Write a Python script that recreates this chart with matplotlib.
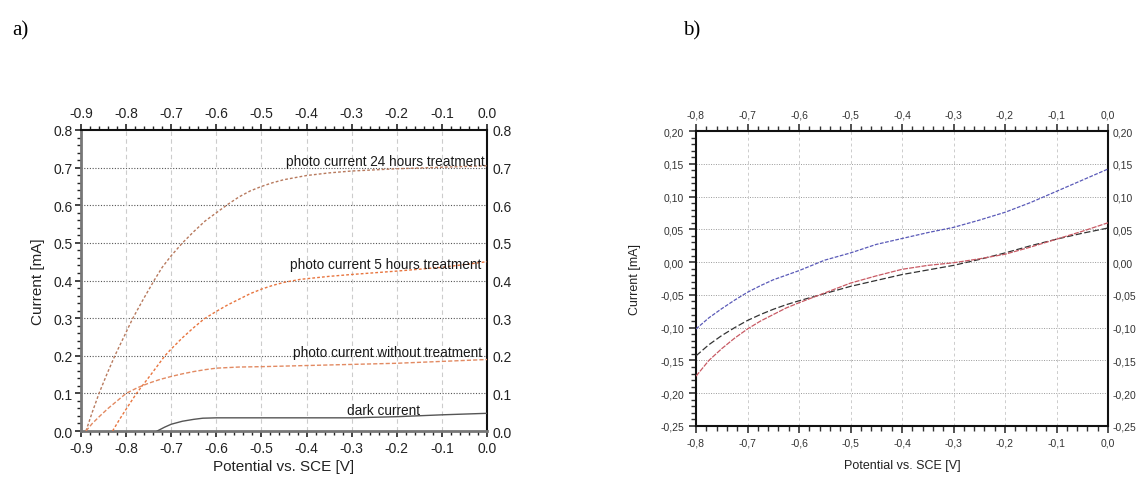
import matplotlib
matplotlib.use("Agg")
import matplotlib.pyplot as plt
from matplotlib.ticker import MultipleLocator, FuncFormatter

plt.rcParams['font.family'] = ['Liberation Sans', 'DejaVu Sans']

# ---------------- Panel a data ----------------
a_x24 = [-0.889, -0.875, -0.86, -0.843, -0.825, -0.805, -0.785, -0.762, -0.738, -0.72, -0.70, -0.675,
         -0.65, -0.625, -0.60, -0.575, -0.55, -0.525, -0.50, -0.475, -0.45, -0.40, -0.35, -0.30,
         -0.20, -0.10, 0.0]
a_y24 = [0.0, 0.05, 0.10, 0.15, 0.20, 0.25, 0.30, 0.35, 0.40, 0.435, 0.466, 0.50,
         0.53, 0.558, 0.580, 0.602, 0.622, 0.638, 0.650, 0.660, 0.668, 0.679, 0.686, 0.691,
         0.697, 0.701, 0.705]

a_x5 = [-0.830, -0.815, -0.80, -0.777, -0.745, -0.714, -0.70, -0.675, -0.65, -0.627, -0.60, -0.575,
        -0.55, -0.525, -0.50, -0.475, -0.45, -0.414, -0.35, -0.30, -0.20, -0.10, 0.0]
a_y5 = [0.0, 0.03, 0.058, 0.10, 0.15, 0.20, 0.218, 0.248, 0.275, 0.298, 0.318, 0.335,
        0.350, 0.365, 0.377, 0.387, 0.395, 0.403, 0.411, 0.416, 0.425, 0.435, 0.450]

a_x0 = [-0.889, -0.875, -0.858, -0.84, -0.82, -0.80, -0.775, -0.75, -0.725, -0.70, -0.675, -0.65,
        -0.625, -0.60, -0.55, -0.50, -0.40, -0.30, -0.20, -0.10, 0.0]
a_y0 = [0.0, 0.02, 0.04, 0.06, 0.08, 0.10, 0.115, 0.127, 0.137, 0.145, 0.152, 0.158,
        0.163, 0.167, 0.170, 0.171, 0.174, 0.177, 0.180, 0.185, 0.190]

a_xd = [-0.731, -0.715, -0.70, -0.675, -0.65, -0.63, -0.60, -0.50, -0.40, -0.30, -0.20, -0.10, 0.0]
a_yd = [0.0, 0.010, 0.018, 0.026, 0.031, 0.034, 0.035, 0.035, 0.035, 0.035, 0.038, 0.043, 0.047]

a_labels = ["photo current 24 hours treatment", "photo current 5 hours treatment",
            "photo current without treatment", "dark current"]

# ---------------- Panel b data ----------------
b_x = [-0.80, -0.775, -0.75, -0.725, -0.70, -0.675, -0.65, -0.625, -0.60, -0.55, -0.50, -0.45,
       -0.40, -0.35, -0.30, -0.25, -0.20, -0.15, -0.10, -0.05, 0.0]
b_blue = [-0.102, -0.085, -0.071, -0.058, -0.046, -0.036, -0.027, -0.020, -0.013, 0.003, 0.014, 0.027,
          0.036, 0.045, 0.053, 0.064, 0.076, 0.091, 0.108, 0.125, 0.142]
b_black = [-0.143, -0.126, -0.112, -0.100, -0.089, -0.080, -0.072, -0.065, -0.059, -0.048, -0.037, -0.028,
           -0.019, -0.012, -0.005, 0.004, 0.014, 0.025, 0.035, 0.044, 0.052]
b_red = [-0.174, -0.150, -0.132, -0.116, -0.102, -0.090, -0.080, -0.070, -0.062, -0.047, -0.032, -0.021,
         -0.011, -0.005, -0.001, 0.005, 0.012, 0.023, 0.035, 0.047, 0.060]

fig = plt.figure(figsize=(11.43, 4.81), dpi=100)
W, H = 1143, 481


def ax_rect(l, r, t, b):
    return [l / W, 1 - b / H, (r - l) / W, (b - t) / H]


# ================= Panel a =================
axa = fig.add_axes(ax_rect(81, 487, 131, 432))
axa.set_xlim(-0.9, 0.0)
axa.set_ylim(0.0, 0.8)
for y in [0.1, 0.2, 0.3, 0.4, 0.5, 0.6, 0.7]:
    axa.axhline(y, color='#555555', lw=0.8, ls=(0, (1, 1.5)), zorder=1)
for x in [-0.8, -0.7, -0.6, -0.5, -0.4, -0.3, -0.2, -0.1]:
    axa.axvline(x, color='#cccccc', lw=0.8, ls=(0, (4, 3)), zorder=1)

axa.plot(a_x24, a_y24, color='#b87a5e', lw=1.0, ls=(0, (2, 1.5)), zorder=3)
axa.plot(a_x5, a_y5, color='#e8753f', lw=1.0, ls=(0, (2, 1.5)), zorder=3)
axa.plot(a_x0, a_y0, color='#e28a62', lw=1.0, ls=(0, (3, 1.5)), zorder=3)
axa.plot(a_xd, a_yd, color='#555555', lw=1.0, zorder=3)

tkw = dict(fontsize=9.8, color='#1a1a1a', zorder=4)
axa.text(-0.005, 0.718, a_labels[0], ha='right', va='center', **tkw)
axa.text(-0.012, 0.444, a_labels[1], ha='right', va='center', **tkw)
axa.text(-0.012, 0.21, a_labels[2], ha='right', va='center', **tkw)
axa.text(-0.229, 0.057, a_labels[3], ha='center', va='center', **tkw)

fmt1 = FuncFormatter(lambda v, p: f"{v:.1f}" if abs(v) > 1e-9 else "0.0")
axa.xaxis.set_major_locator(MultipleLocator(0.1))
axa.xaxis.set_minor_locator(MultipleLocator(0.02))
axa.yaxis.set_major_locator(MultipleLocator(0.1))
axa.yaxis.set_minor_locator(MultipleLocator(0.02))
axa.xaxis.set_major_formatter(fmt1)
axa.yaxis.set_major_formatter(fmt1)
axa.tick_params(axis='x', which='both', top=True, bottom=True, labeltop=True, labelbottom=True,
                direction='out', labelsize=10, colors='#222222', pad=2.5)
axa.tick_params(axis='x', which='major', length=4.5, width=1.2)
axa.tick_params(axis='x', which='minor', length=3, width=1.0)
axa.tick_params(axis='y', which='both', left=True, right=False, labelleft=True, labelright=False,
                direction='out', labelsize=10, colors='#222222', pad=2)
axa.tick_params(axis='y', which='major', length=4, width=1.2)
axa.tick_params(axis='y', which='minor', length=3, width=1.0)
for side in ['left', 'bottom']:
    axa.spines[side].set_color('#777777')
    axa.spines[side].set_linewidth(2.0)
for side in ['top', 'right']:
    axa.spines[side].set_color('#111111')
    axa.spines[side].set_linewidth(1.5)
axa.set_xlabel("Potential vs. SCE [V]", fontsize=11, color='#222222', labelpad=3)
axa.set_ylabel("Current [mA]", fontsize=11, color='#222222', labelpad=6)

axa2 = axa.twinx()
axa2.set_ylim(0.0, 0.8)
axa2.yaxis.set_major_locator(MultipleLocator(0.1))
axa2.yaxis.set_major_formatter(fmt1)
axa2.tick_params(axis='y', length=0, pad=4, labelsize=10, colors='#222222')
for s in axa2.spines.values():
    s.set_visible(False)

# ================= Panel b =================
axb = fig.add_axes(ax_rect(696, 1108, 132, 427))
axb.set_xlim(-0.8, 0.0)
axb.set_ylim(-0.25, 0.20)
for y in [0.15, 0.10, 0.05, 0.0, -0.05, -0.10, -0.15, -0.20]:
    axb.axhline(y, color='#999999', lw=0.7, ls=(0, (1, 1.5)), zorder=1)
for x in [-0.7, -0.6, -0.5, -0.4, -0.3, -0.2, -0.1]:
    axb.axvline(x, color='#cccccc', lw=0.7, ls=(0, (3, 3)), zorder=1)

axb.plot(b_x, b_blue, color='#5a5ab8', lw=0.9, ls=(0, (3, 1.2)), zorder=3)
axb.plot(b_x, b_black, color='#333333', lw=0.9, ls=(0, (5, 2)), zorder=3)
axb.plot(b_x, b_red, color='#c85a64', lw=0.9, ls=(0, (4, 1)), zorder=3)

fmtx = FuncFormatter(lambda v, p: (f"{v:.1f}" if abs(v) > 1e-9 else "0.0").replace('.', ','))
fmty = FuncFormatter(lambda v, p: (f"{v:.2f}" if abs(v) > 1e-9 else "0.00").replace('.', ','))
axb.xaxis.set_major_locator(MultipleLocator(0.1))
axb.xaxis.set_minor_locator(MultipleLocator(0.02))
axb.yaxis.set_major_locator(MultipleLocator(0.05))
axb.yaxis.set_minor_locator(MultipleLocator(0.01))
axb.xaxis.set_major_formatter(fmtx)
axb.yaxis.set_major_formatter(fmty)
axb.tick_params(axis='x', which='both', top=True, bottom=True, labeltop=True, labelbottom=True,
                direction='out', labelsize=7.5, colors='#333333')
axb.tick_params(axis='x', which='major', length=5, width=1.2)
axb.tick_params(axis='x', which='minor', length=3.5, width=1.0)
axb.tick_params(axis='y', which='both', left=True, right=False, labelleft=True, labelright=False,
                direction='out', labelsize=7.5, colors='#333333')
axb.tick_params(axis='y', which='major', length=5, width=1.2)
axb.tick_params(axis='y', which='minor', length=3.5, width=1.0)
for s in axb.spines.values():
    s.set_color('#111111')
    s.set_linewidth(1.5)
axb.set_xlabel("Potential vs. SCE [V]", fontsize=9, color='#222222', labelpad=8)
axb.set_ylabel("Current [mA]", fontsize=9, color='#222222', labelpad=14)

axb2 = axb.twinx()
axb2.set_ylim(-0.25, 0.20)
axb2.yaxis.set_major_locator(MultipleLocator(0.05))
axb2.yaxis.set_major_formatter(fmty)
axb2.tick_params(axis='y', length=0, pad=3, labelsize=7.5, colors='#333333')
for s in axb2.spines.values():
    s.set_visible(False)

# panel letters
fig.text(12 / W, 1 - 31 / H, "a)", fontsize=15, family=['Liberation Serif', 'DejaVu Serif'], va='center')
fig.text(683 / W, 1 - 31 / H, "b)", fontsize=15, family=['Liberation Serif', 'DejaVu Serif'], va='center')

fig.savefig("out.png", dpi=100)
